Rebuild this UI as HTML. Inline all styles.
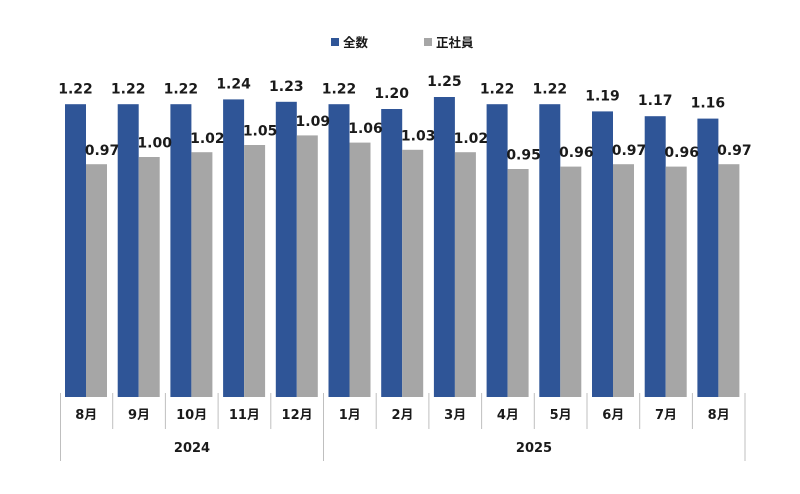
<!DOCTYPE html>
<html><head><meta charset="utf-8"><style>
html,body{margin:0;padding:0;background:#fff;width:800px;height:494px;overflow:hidden}
text{font-family:"DejaVu Sans","Liberation Sans","Noto Sans CJK JP",sans-serif;font-weight:bold;fill:#1a1a1a}
</style></head><body>
<svg width="800" height="494" xmlns="http://www.w3.org/2000/svg">
<rect x="331" y="38" width="8" height="8" fill="#2f5597"/>
<text x="343" y="47" font-size="12.5">全数</text>
<rect x="424" y="38" width="8" height="8" fill="#a6a6a6"/>
<text x="436" y="47" font-size="12.5">正社員</text>
<g>
<rect x="65" y="104.2" width="21" height="292.8" fill="#2f5597"/>
<rect x="117.7" y="104.2" width="21" height="292.8" fill="#2f5597"/>
<rect x="170.4" y="104.2" width="21" height="292.8" fill="#2f5597"/>
<rect x="223.1" y="99.4" width="21" height="297.6" fill="#2f5597"/>
<rect x="275.8" y="101.8" width="21" height="295.2" fill="#2f5597"/>
<rect x="328.5" y="104.2" width="21" height="292.8" fill="#2f5597"/>
<rect x="381.2" y="109" width="21" height="288" fill="#2f5597"/>
<rect x="433.9" y="97" width="21" height="300" fill="#2f5597"/>
<rect x="486.6" y="104.2" width="21" height="292.8" fill="#2f5597"/>
<rect x="539.3" y="104.2" width="21" height="292.8" fill="#2f5597"/>
<rect x="592" y="111.4" width="21" height="285.6" fill="#2f5597"/>
<rect x="644.7" y="116.2" width="21" height="280.8" fill="#2f5597"/>
<rect x="697.4" y="118.6" width="21" height="278.4" fill="#2f5597"/>
<rect x="86" y="164.2" width="21" height="232.8" fill="#a6a6a6"/>
<rect x="138.7" y="157" width="21" height="240" fill="#a6a6a6"/>
<rect x="191.4" y="152.2" width="21" height="244.8" fill="#a6a6a6"/>
<rect x="244.1" y="145" width="21" height="252" fill="#a6a6a6"/>
<rect x="296.8" y="135.4" width="21" height="261.6" fill="#a6a6a6"/>
<rect x="349.5" y="142.6" width="21" height="254.4" fill="#a6a6a6"/>
<rect x="402.2" y="149.8" width="21" height="247.2" fill="#a6a6a6"/>
<rect x="454.9" y="152.2" width="21" height="244.8" fill="#a6a6a6"/>
<rect x="507.6" y="169" width="21" height="228" fill="#a6a6a6"/>
<rect x="560.3" y="166.6" width="21" height="230.4" fill="#a6a6a6"/>
<rect x="613" y="164.2" width="21" height="232.8" fill="#a6a6a6"/>
<rect x="665.7" y="166.6" width="21" height="230.4" fill="#a6a6a6"/>
<rect x="718.4" y="164.2" width="21" height="232.8" fill="#a6a6a6"/>
</g>
<g font-size="14" text-anchor="middle">
<text x="75.5" y="93.5">1.22</text>
<text x="128.2" y="93.5">1.22</text>
<text x="180.9" y="93.5">1.22</text>
<text x="233.6" y="88.5">1.24</text>
<text x="286.3" y="91">1.23</text>
<text x="339" y="93.5">1.22</text>
<text x="391.7" y="98">1.20</text>
<text x="444.4" y="86">1.25</text>
<text x="497.1" y="93.5">1.22</text>
<text x="549.8" y="93.5">1.22</text>
<text x="602.5" y="100.5">1.19</text>
<text x="655.2" y="105">1.17</text>
<text x="707.9" y="107.5">1.16</text>
<text x="102" y="155">0.97</text>
<text x="154.7" y="147.5">1.00</text>
<text x="207.4" y="143">1.02</text>
<text x="260.1" y="135.5">1.05</text>
<text x="312.8" y="126">1.09</text>
<text x="365.5" y="133">1.06</text>
<text x="418.2" y="140.5">1.03</text>
<text x="470.9" y="143">1.02</text>
<text x="523.6" y="159.5">0.95</text>
<text x="576.3" y="157">0.96</text>
<text x="629" y="155">0.97</text>
<text x="681.7" y="157">0.96</text>
<text x="734.4" y="155">0.97</text>
</g>
<g stroke="#bfbfbf" stroke-width="1">
<line x1="60.5" y1="393" x2="60.5" y2="461"/>
<line x1="112.7" y1="393" x2="112.7" y2="429"/>
<line x1="165.4" y1="393" x2="165.4" y2="429"/>
<line x1="218.1" y1="393" x2="218.1" y2="429"/>
<line x1="270.8" y1="393" x2="270.8" y2="429"/>
<line x1="323.5" y1="393" x2="323.5" y2="461"/>
<line x1="376.2" y1="393" x2="376.2" y2="429"/>
<line x1="428.9" y1="393" x2="428.9" y2="429"/>
<line x1="481.6" y1="393" x2="481.6" y2="429"/>
<line x1="534.3" y1="393" x2="534.3" y2="429"/>
<line x1="587" y1="393" x2="587" y2="429"/>
<line x1="639.7" y1="393" x2="639.7" y2="429"/>
<line x1="692.4" y1="393" x2="692.4" y2="429"/>
<line x1="745" y1="393" x2="745" y2="461"/>
</g>
<g font-size="13" text-anchor="middle">
<text x="86.3" y="419">8月</text>
<text x="139" y="419">9月</text>
<text x="191.7" y="419">10月</text>
<text x="244.4" y="419">11月</text>
<text x="297.1" y="419">12月</text>
<text x="349.8" y="419">1月</text>
<text x="402.5" y="419">2月</text>
<text x="455.2" y="419">3月</text>
<text x="507.9" y="419">4月</text>
<text x="560.6" y="419">5月</text>
<text x="613.3" y="419">6月</text>
<text x="666" y="419">7月</text>
<text x="718.7" y="419">8月</text>
<text x="192" y="452">2024</text>
<text x="534" y="452">2025</text>
</g>
</svg>
</body></html>
